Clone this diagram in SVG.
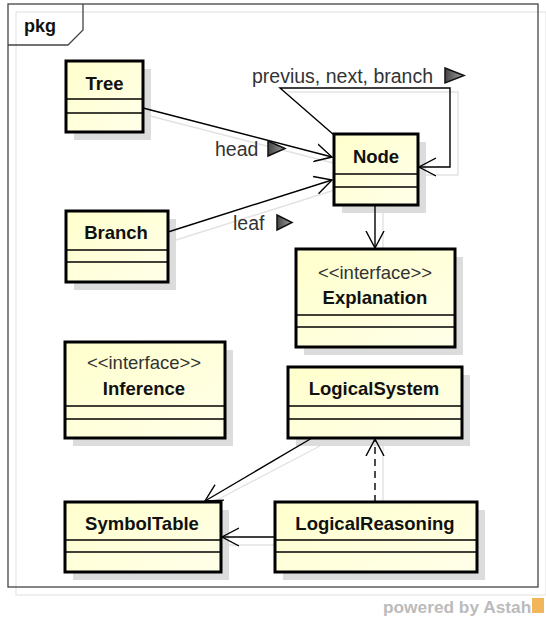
<svg xmlns="http://www.w3.org/2000/svg" width="546" height="623" viewBox="0 0 546 623">
  <defs>
    <linearGradient id="yel" x1="0" y1="0" x2="1" y2="1">
      <stop offset="0" stop-color="#FFFFCC"/>
      <stop offset="1" stop-color="#FFFFEA"/>
    </linearGradient>
    <linearGradient id="tri" x1="0" y1="0" x2="1" y2="0">
      <stop offset="0" stop-color="#444"/>
      <stop offset="1" stop-color="#a0a0a0"/>
    </linearGradient>
    <marker id="open" markerUnits="userSpaceOnUse" markerWidth="22" markerHeight="22" refX="17" refY="9" orient="auto" viewBox="0 0 22 18">
      <path d="M0,0 L17,9 L0,18" fill="none" stroke="#000" stroke-width="1.4"/>
    </marker>
    <style>
      .shadow { fill: #dcdcdc; }
      .box { fill: url(#yel); stroke: #000; stroke-width: 3; }
      .div { stroke: #000; stroke-width: 1.3; }
      .name { font-family: "Liberation Sans", Arial, sans-serif; font-weight: bold; font-size: 18.5px; fill: #111; text-anchor: middle; }
      .stereo { font-family: "Liberation Sans", Arial, sans-serif; font-size: 18.5px; fill: #333; text-anchor: middle; }
      .lbl { font-family: "Liberation Sans", Arial, sans-serif; font-size: 19.5px; fill: #333; }
      .conn { fill: none; stroke: #000; stroke-width: 1.4; }
      .cshadow { fill: none; stroke: #e2e2e2; stroke-width: 1.4; }
      .dir { fill: url(#tri); stroke: #111; stroke-width: 1.5; }
    </style>
  </defs>
  <rect width="546" height="623" fill="#fff"/>

  <!-- package frame -->
  <g id="frame">
    <rect x="16" y="12" width="530" height="583" fill="none" stroke="#e0e0e0" stroke-width="1"/>
    <rect x="8" y="4" width="530" height="583" fill="none" stroke="#444" stroke-width="1.3"/>
    <path d="M8,45 L68,45 L83,30 L83,4" fill="none" stroke="#444" stroke-width="1.3"/>
    <text x="24" y="32" font-family="'Liberation Sans', Arial, sans-serif" font-weight="bold" font-size="18px" fill="#111">pkg</text>
  </g>

  <!-- connector shadows -->
  <g id="connector-shadows">
    <polyline class="cshadow" points="288,92 458,92 458,175 425,175"/>
    <line class="cshadow" x1="150" y1="116" x2="341" y2="165"/>
    <line class="cshadow" x1="176" y1="240" x2="341" y2="188"/>
    <line class="cshadow" x1="383" y1="213" x2="383" y2="249"/>
    <line class="cshadow" x1="320" y1="446" x2="213" y2="502"/>
    <line class="cshadow" x1="383" y1="446" x2="383" y2="502"/>
    <line class="cshadow" x1="229" y1="545" x2="275" y2="545"/>
  </g>

  <!-- nodes -->
  <g id="Tree">
    <rect class="shadow" x="74" y="69" width="77" height="71"/>
    <rect class="box" x="66" y="61" width="77" height="71"/>
    <line class="div" x1="66" y1="99" x2="143" y2="99"/>
    <line class="div" x1="66" y1="113" x2="143" y2="113"/>
    <text class="name" x="104.5" y="90">Tree</text>
  </g>

  <g id="Node">
    <rect class="shadow" x="342" y="142" width="84" height="71"/>
    <rect class="box" x="334" y="134" width="84" height="71"/>
    <line class="div" x1="334" y1="174" x2="418" y2="174"/>
    <line class="div" x1="334" y1="187" x2="418" y2="187"/>
    <text class="name" x="376" y="163">Node</text>
  </g>

  <g id="Branch">
    <rect class="shadow" x="74" y="219" width="102" height="71"/>
    <rect class="box" x="66" y="211" width="102" height="71"/>
    <line class="div" x1="66" y1="250" x2="168" y2="250"/>
    <line class="div" x1="66" y1="262" x2="168" y2="262"/>
    <text class="name" x="116" y="239">Branch</text>
  </g>

  <g id="Explanation">
    <rect class="shadow" x="304" y="257" width="159" height="98"/>
    <rect class="box" x="296" y="249" width="159" height="98"/>
    <line class="div" x1="296" y1="315" x2="455" y2="315"/>
    <line class="div" x1="296" y1="327" x2="455" y2="327"/>
    <text class="stereo" x="375" y="279">&lt;&lt;interface&gt;&gt;</text>
    <text class="name" x="375" y="304">Explanation</text>
  </g>

  <g id="Inference">
    <rect class="shadow" x="73" y="350" width="160" height="96"/>
    <rect class="box" x="65" y="342" width="160" height="96"/>
    <line class="div" x1="65" y1="406" x2="225" y2="406"/>
    <line class="div" x1="65" y1="419" x2="225" y2="419"/>
    <text class="stereo" x="144" y="369">&lt;&lt;interface&gt;&gt;</text>
    <text class="name" x="144" y="395">Inference</text>
  </g>

  <g id="LogicalSystem">
    <rect class="shadow" x="296" y="375" width="174" height="71"/>
    <rect class="box" x="288" y="367" width="174" height="71"/>
    <line class="div" x1="288" y1="406" x2="462" y2="406"/>
    <line class="div" x1="288" y1="419" x2="462" y2="419"/>
    <text class="name" x="374" y="395">LogicalSystem</text>
  </g>

  <g id="SymbolTable">
    <rect class="shadow" x="73" y="510" width="156" height="70"/>
    <rect class="box" x="65" y="502" width="156" height="70"/>
    <line class="div" x1="65" y1="540" x2="221" y2="540"/>
    <line class="div" x1="65" y1="552" x2="221" y2="552"/>
    <text class="name" x="142" y="530">SymbolTable</text>
  </g>

  <g id="LogicalReasoning">
    <rect class="shadow" x="283" y="510" width="202" height="70"/>
    <rect class="box" x="275" y="502" width="202" height="70"/>
    <line class="div" x1="275" y1="540" x2="477" y2="540"/>
    <line class="div" x1="275" y1="552" x2="477" y2="552"/>
    <text class="name" x="375" y="530">LogicalReasoning</text>
  </g>

  <!-- connectors -->
  <g id="connectors">
    <line class="conn" x1="143" y1="108" x2="332" y2="157" marker-end="url(#open)"/>
    <line class="conn" x1="168" y1="232" x2="332" y2="180" marker-end="url(#open)"/>
    <polyline class="conn" points="334,135 280,88 450,88 450,167 419,167" marker-end="url(#open)"/>
    <line class="conn" x1="375" y1="205" x2="375" y2="248" marker-end="url(#open)"/>
    <line class="conn" x1="312" y1="438" x2="205" y2="501" marker-end="url(#open)"/>
    <line class="conn" x1="375" y1="502" x2="375" y2="439" stroke-dasharray="7,5" marker-end="url(#open)"/>
    <line class="conn" x1="275" y1="537" x2="222" y2="537" marker-end="url(#open)"/>
  </g>

  <!-- connector labels -->
  <g id="labels">
    <text class="lbl" x="252" y="83">previus, next, branch</text>
    <path class="dir" d="M445,68 L464,75.5 L445,83 Z"/>
    <text class="lbl" x="215" y="156">head</text>
    <path class="dir" d="M268,141 L285,148.5 L268,156 Z"/>
    <text class="lbl" x="233" y="230">leaf</text>
    <path class="dir" d="M277,215 L292,222.5 L277,230 Z"/>
  </g>

  <!-- footer -->
  <g id="footer">
    <text x="383" y="613" font-family="'Liberation Sans', Arial, sans-serif" font-weight="bold" font-size="17.3px" fill="#bbb">powered by Astah</text>
    <rect x="532" y="598" width="12" height="15" fill="#f3b55a"/>
  </g>
</svg>
